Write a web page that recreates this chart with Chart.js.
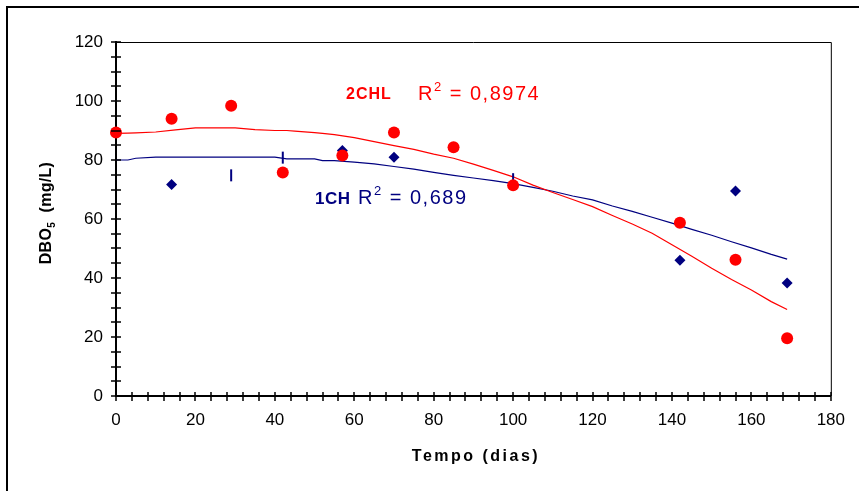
<!DOCTYPE html>
<html>
<head>
<meta charset="utf-8">
<script src="https://cdn.jsdelivr.net/npm/chart.js@4.4.1/dist/chart.umd.min.js"></script>
<style>
	html, body { margin: 0; padding: 0; background: #fff; }
	canvas { display: block; }
</style>
</head>
<body>
<canvas id="dboChart" width="859" height="491"></canvas>
<script>
// dias de coleta
var dias2CHL = [0, 14, 29, 42, 57, 70, 85, 100, 142, 156, 169];
var dbo2CHL = [89.3, 94, 98.4, 75.8, 81.5, 89.3, 84.3, 71.4, 58.7, 46.2, 19.6];
var dias1CH = [14, 57, 70, 142, 156, 169];
var dbo1CH = [71.7, 83.2, 80.9, 46, 69.5, 38.3];
// marcas verticais da serie 1CH
var dias1CHm = [29, 42, 100];
var dbo1CHm = [74.8, 80.8, 73.5];
// linhas de tendencia
var diasTend = [0, 3, 5, 10, 15, 20, 25, 30, 35, 40, 43, 45, 50, 52, 55, 60, 65, 70, 75, 80, 85, 90, 95, 100, 105, 110, 115, 120, 125, 130, 135, 140, 145, 150, 155, 160, 165, 169];
var tend2CHL = [89, 89.1, 89.2, 89.5, 90.2, 90.9, 90.9, 90.9, 90.3, 90, 90, 89.8, 89.3, 89, 88.6, 87.6, 86.2, 84.9, 83.6, 82, 80.6, 78.6, 76.5, 74.3, 71.5, 69, 66.6, 64.2, 61.2, 58.3, 55.2, 51.3, 47.4, 43.3, 39.5, 35.9, 32, 29.3];
var tend1CH = [80, 80, 80.6, 81, 81, 81, 81, 81, 81, 81, 80.4, 80.4, 80.4, 79.8, 79.8, 79.3, 78.7, 77.8, 76.9, 75.8, 74.8, 73.9, 73, 72, 70.7, 69.4, 67.8, 66.5, 64.4, 62.6, 60.6, 58.6, 56.5, 54.5, 52.3, 50.2, 48, 46.4];
var ticksY = [0, 20, 40, 60, 80, 100, 120];
var ticksX = [0, 20, 40, 60, 80, 100, 120, 140, 160, 180];

var VERMELHO = '#ff0000';
var AZUL = '#000080';
var FONTE = '"Liberation Sans", Arial, sans-serif';

function pontos(xs, ys) {
	var r = [];
	for (var i = 0; i < xs.length; i++) r.push({x: xs[i], y: ys[i]});
	return r;
}

function texto(ctx, partes, x, y) {
	// partes: [texto, fonte, deslocamento vertical]
	partes.forEach(function(p) {
		ctx.font = p[1];
		ctx.fillText(p[0], x, y + p[2]);
		x += ctx.measureText(p[0]).width;
	});
}

var moldura = {
	id: 'moldura',
	beforeDraw: function(chart) {
		var ctx = chart.ctx;
		ctx.save();
		ctx.fillStyle = '#fff';
		ctx.fillRect(0, 0, chart.width, chart.height);
		ctx.fillStyle = '#000';
		ctx.fillRect(6, 6, chart.width - 6, 2);
		ctx.fillRect(6, 6, 2, chart.height - 6);
		ctx.restore();
	},
	afterDatasetsDraw: function(chart) {
		var ctx = chart.ctx;
		var a = chart.chartArea;
		var sx = chart.scales.x, sy = chart.scales.y;
		ctx.save();
		ctx.strokeStyle = '#000';
		ctx.lineWidth = 1;
		ctx.beginPath();
		ctx.moveTo(a.left, a.top + 0.5);
		ctx.lineTo(a.right + 0.5, a.top + 0.5);
		ctx.lineTo(a.right + 0.5, a.bottom);
		ctx.stroke();
		// marcas dos eixos
		ctx.lineWidth = 1.5;
		ctx.beginPath();
		for (var v = 0; v <= 120; v += 5) {
			var py = Math.round(sy.getPixelForValue(v));
			ctx.moveTo(a.left - 5, py);
			ctx.lineTo(a.left + 5, py);
		}
		for (var d = 0; d <= 180; d += 4) {
			var px = Math.round(sx.getPixelForValue(d));
			ctx.moveTo(px, a.bottom - 4);
			ctx.lineTo(px, a.bottom + 5);
		}
		ctx.stroke();

		ctx.textBaseline = 'alphabetic';
		// rotulos R2
		ctx.fillStyle = VERMELHO;
		ctx.letterSpacing = '1px';
		texto(ctx, [['2CHL', 'bold 16px ' + FONTE, 0]], 346, 99);
		ctx.letterSpacing = '1.5px';
		texto(ctx, [['R', '20px ' + FONTE, 0], ['2', '13px ' + FONTE, -9], [' = 0,8974', '20px ' + FONTE, 0]], 418, 100);
		ctx.fillStyle = AZUL;
		ctx.letterSpacing = '0.5px';
		texto(ctx, [['1CH', 'bold 17px ' + FONTE, 0]], 315, 204);
		ctx.letterSpacing = '1.5px';
		texto(ctx, [['R', '20px ' + FONTE, 0], ['2', '13px ' + FONTE, -9], [' = 0,689', '20px ' + FONTE, 0]], 358, 204);

		// titulos dos eixos
		ctx.fillStyle = '#000';
		ctx.font = 'bold 16px ' + FONTE;
		ctx.letterSpacing = '2.5px';
		ctx.textAlign = 'center';
		ctx.fillText('Tempo (dias)', 476, 461);
		ctx.letterSpacing = '0.3px';
		ctx.textAlign = 'left';
		ctx.translate(51, 213);
		ctx.rotate(-Math.PI / 2);
		var partes = [['DBO', 'bold 16px ' + FONTE, 0], ['5', 'bold 10px ' + FONTE, 4], ['  (mg/L)', 'bold 16px ' + FONTE, 0]];
		var larg = 0;
		partes.forEach(function(p) { ctx.font = p[1]; larg += ctx.measureText(p[0]).width; });
		texto(ctx, partes, -larg / 2, 0);
		ctx.restore();
	}
};

var ctx = document.getElementById('dboChart').getContext('2d');
var grafico = new Chart(ctx, {
	type: 'scatter',
	data: {
		datasets: [
			{
				label: '2CHL',
				data: pontos(dias2CHL, dbo2CHL),
				pointStyle: 'circle',
				pointRadius: 6,
				backgroundColor: VERMELHO,
				borderColor: VERMELHO,
				borderWidth: 0,
				clip: false,
			}, {
				label: '1CH',
				data: pontos(dias1CH, dbo1CH),
				pointStyle: 'rectRot',
				pointRadius: 5.5,
				backgroundColor: AZUL,
				borderColor: AZUL,
				borderWidth: 0,
				clip: false,
			}, {
				label: '1CH marcas',
				data: pontos(dias1CHm, dbo1CHm),
				pointStyle: 'line',
				rotation: 90,
				pointRadius: 6,
				borderColor: AZUL,
				borderWidth: 2,
				clip: false,
			}, {
				label: 'tendencia 2CHL',
				data: pontos(diasTend, tend2CHL),
				showLine: true,
				pointRadius: 0,
				borderColor: VERMELHO,
				borderWidth: 1.2,
				tension: 0,
			}, {
				label: 'tendencia 1CH',
				data: pontos(diasTend, tend1CH),
				showLine: true,
				pointRadius: 0,
				borderColor: AZUL,
				borderWidth: 1.2,
				tension: 0,
			}
		]
	},
	options: {
		responsive: false,
		animation: false,
		devicePixelRatio: 1,
		layout: { padding: { top: 42, right: 27, left: 0, bottom: 0 } },
		plugins: {
			legend: { display: false },
			tooltip: { enabled: false },
		},
		scales: {
			x: {
				type: 'linear',
				min: 0,
				max: 180,
				afterBuildTicks: function(s) { s.ticks = ticksX.map(function(v) { return {value: v}; }); },
				afterFit: function(s) { s.height = 95; },
				grid: { display: false, drawTicks: false },
				border: { display: true, color: '#000', width: 2 },
				ticks: { color: '#000', font: { family: FONTE, size: 17 }, padding: 14, maxRotation: 0, autoSkip: false },
			},
			y: {
				type: 'linear',
				min: 0,
				max: 120,
				afterBuildTicks: function(s) { s.ticks = ticksY.map(function(v) { return {value: v}; }); },
				afterFit: function(s) { s.width = 116; },
				grid: { display: false, drawTicks: false },
				border: { display: true, color: '#000', width: 2 },
				ticks: { color: '#000', font: { family: FONTE, size: 17 }, padding: 13 },
			}
		}
	},
	plugins: [moldura]
});
</script>
</body>
</html>
